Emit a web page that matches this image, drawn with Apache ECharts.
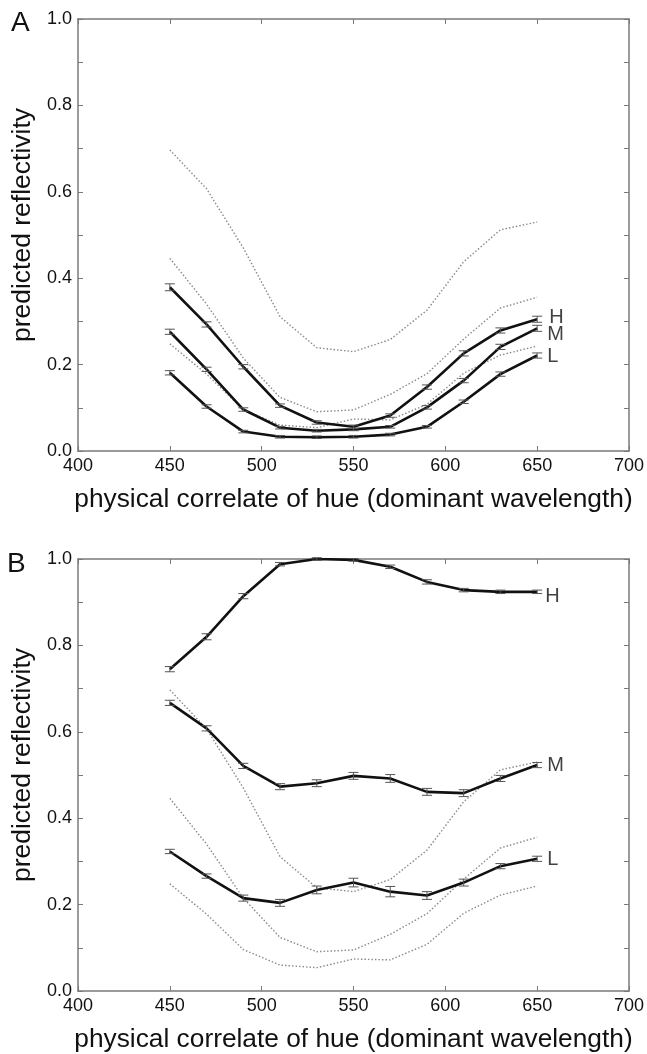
<!DOCTYPE html>
<html>
<head>
<meta charset="utf-8">
<script src="https://cdn.jsdelivr.net/npm/echarts@6/dist/echarts.min.js"></script>
<style>
html,body{margin:0;padding:0;background:#fff;}
#chart{width:647px;height:1054px;}
</style>
</head>
<body>
<div id="chart"></div>
<script>
// ---- data ----
const wavelengths = [450, 470, 490, 510, 530, 550, 570, 590, 610, 630, 650];
const xTicks = [400, 450, 500, 550, 600, 650, 700];

// Panel A solid curves
const aHigh = [0.379, 0.293, 0.195, 0.105, 0.066, 0.056, 0.082, 0.148, 0.226, 0.279, 0.305];
const aMid  = [0.276, 0.189, 0.096, 0.054, 0.047, 0.050, 0.056, 0.101, 0.163, 0.241, 0.284];
const aLow  = [0.181, 0.103, 0.045, 0.033, 0.032, 0.033, 0.038, 0.056, 0.114, 0.178, 0.221];
const aHighErr = [0.008, 0.006, 0.005, 0.004, 0.004, 0.004, 0.004, 0.005, 0.006, 0.006, 0.007];
const aMidErr  = [0.006, 0.005, 0.004, 0.003, 0.003, 0.003, 0.003, 0.004, 0.005, 0.006, 0.007];
const aLowErr  = [0.005, 0.004, 0.003, 0.003, 0.003, 0.003, 0.003, 0.003, 0.004, 0.005, 0.006];

// Panel B solid curves
const bHigh = [0.745, 0.820, 0.914, 0.988, 1.000, 0.998, 0.982, 0.947, 0.928, 0.924, 0.924];
const bMid  = [0.667, 0.608, 0.521, 0.473, 0.481, 0.498, 0.492, 0.461, 0.458, 0.492, 0.523];
const bLow  = [0.323, 0.266, 0.215, 0.204, 0.234, 0.251, 0.230, 0.221, 0.251, 0.289, 0.306];
const bHighErr = [0.006, 0.007, 0.006, 0.004, 0.003, 0.003, 0.004, 0.005, 0.004, 0.004, 0.004];
const bMidErr  = [0.006, 0.006, 0.006, 0.007, 0.008, 0.008, 0.009, 0.008, 0.008, 0.007, 0.006];
const bLowErr  = [0.005, 0.005, 0.007, 0.008, 0.009, 0.010, 0.012, 0.009, 0.008, 0.006, 0.006];

// Dotted reference curves (same in both panels)
const dotHigh = [0.697, 0.607, 0.470, 0.311, 0.239, 0.230, 0.258, 0.326, 0.438, 0.512, 0.530];
const dotMid  = [0.446, 0.340, 0.215, 0.124, 0.091, 0.095, 0.131, 0.179, 0.259, 0.331, 0.356];
const dotLow  = [0.248, 0.178, 0.096, 0.060, 0.054, 0.074, 0.072, 0.108, 0.180, 0.222, 0.243];

const yMin = 0, yMax = 1, yStep = 0.1;
const labelsA = ['H', 'M', 'L'];
const labelsB = ['H', 'M', 'L'];

// ---- chart ----
const chart = echarts.init(document.getElementById('chart'), null, {renderer: 'canvas'});
const FONT = 'Liberation Sans, Arial, Helvetica, sans-serif';
const AX = '#7a7a7a';
const TXT = '#111';

const grids = [
  {left: 78, right: 18, top: 19, height: 432},
  {left: 78, right: 18, top: 559, height: 432}
];

function pair(vals) { return wavelengths.map((w, i) => [w, vals[i]]); }
function errData(vals, errs) { return wavelengths.map((w, i) => [w, vals[i], errs[i]]); }

function xAxes(gi) {
  return [
    {
      type: 'value', gridIndex: gi, min: 400, max: 700, interval: 50, position: 'bottom',
      name: 'physical correlate of hue (dominant wavelength)', nameLocation: 'middle', nameGap: 36,
      nameTextStyle: {fontFamily: FONT, fontSize: 26.3, color: TXT},
      axisLine: {show: true, lineStyle: {color: AX, width: 1.5}},
      axisTick: {show: true, inside: true, length: 5, lineStyle: {color: AX, width: 1}},
      axisLabel: {fontFamily: FONT, fontSize: 18, color: TXT, margin: 6},
      splitLine: {show: false}
    },
    {
      type: 'value', gridIndex: gi, min: 400, max: 700, interval: 50, position: 'top',
      axisLine: {show: true, onZero: false, lineStyle: {color: AX, width: 1.5}},
      axisTick: {show: true, inside: true, length: 5, lineStyle: {color: AX, width: 1}},
      axisLabel: {show: false}, splitLine: {show: false}
    }
  ];
}
function yAxes(gi) {
  return [
    {
      type: 'value', gridIndex: gi, min: yMin, max: yMax, interval: yStep, position: 'left',
      name: 'predicted reflectivity', nameLocation: 'middle', nameGap: 39,
      nameTextStyle: {fontFamily: FONT, fontSize: 26.5, color: TXT, padding: [0, 0, 0, 20]},
      axisLine: {show: true, onZero: false, lineStyle: {color: AX, width: 1.5}},
      axisTick: {show: true, inside: true, length: 5, lineStyle: {color: AX, width: 1}},
      axisLabel: {fontFamily: FONT, fontSize: 18, color: TXT, margin: 6,
        formatter: v => (Math.round(v * 10) % 2 === 0 ? v.toFixed(1) : '')},
      splitLine: {show: false}
    },
    {
      type: 'value', gridIndex: gi, min: yMin, max: yMax, interval: yStep, position: 'right',
      axisLine: {show: true, onZero: false, lineStyle: {color: AX, width: 1.5}},
      axisTick: {show: true, inside: true, length: 5, lineStyle: {color: AX, width: 1}},
      axisLabel: {show: false}, splitLine: {show: false}
    }
  ];
}

function dotted(vals, xi, yi) {
  return {type: 'line', xAxisIndex: xi, yAxisIndex: yi, data: pair(vals), symbol: 'none',
    lineStyle: {color: '#8a8a8a', width: 1.4, type: [1.5, 2]}, silent: true, z: 2};
}
function solid(vals, xi, yi) {
  return {type: 'line', xAxisIndex: xi, yAxisIndex: yi, data: pair(vals), symbol: 'none',
    lineStyle: {color: '#111', width: 2.6}, silent: true, z: 3};
}
function errBars(vals, errs, xi, yi) {
  return {
    type: 'custom', xAxisIndex: xi, yAxisIndex: yi, data: errData(vals, errs), z: 4, silent: true,
    clip: false,
    renderItem: function (params, api) {
      const x = api.value(0), y = api.value(1), e = api.value(2);
      const t = api.coord([x, y + e]);
      const b = api.coord([x, y - e]);
      const hw = 5;
      const st = {stroke: '#555', lineWidth: 1};
      return {type: 'group', children: [
        {type: 'line', shape: {x1: t[0], y1: t[1], x2: b[0], y2: b[1]}, style: st},
        {type: 'line', shape: {x1: t[0] - hw, y1: t[1], x2: t[0] + hw, y2: t[1]}, style: st},
        {type: 'line', shape: {x1: b[0] - hw, y1: b[1], x2: b[0] + hw, y2: b[1]}, style: st}
      ]};
    }
  };
}
function endLabels(names, curves, offsets, xi, yi) {
  return {
    type: 'scatter', xAxisIndex: xi, yAxisIndex: yi, symbolSize: 0, silent: true, z: 5,
    data: curves.map((c, i) => ({
      value: [wavelengths[wavelengths.length - 1], c[c.length - 1]],
      label: {show: true, formatter: names[i], position: 'right', distance: 0,
        offset: offsets[i], fontFamily: FONT, fontSize: 20, color: TXT}
    }))
  };
}

const option = {
  backgroundColor: '#ffffff',
  animation: false,
  grid: grids,
  xAxis: [...xAxes(0), ...xAxes(1)],
  yAxis: [...yAxes(0), ...yAxes(1)],
  graphic: [
    {type: 'text', left: 11, top: 9, style: {text: 'A', font: '28px ' + FONT, fill: TXT}},
    {type: 'text', left: 7, top: 550, style: {text: 'B', font: '28px ' + FONT, fill: TXT}}
  ],
  series: [
    dotted(dotHigh, 0, 0), dotted(dotMid, 0, 0), dotted(dotLow, 0, 0),
    solid(aHigh, 0, 0), solid(aMid, 0, 0), solid(aLow, 0, 0),
    errBars(aHigh, aHighErr, 0, 0), errBars(aMid, aMidErr, 0, 0), errBars(aLow, aLowErr, 0, 0),
    endLabels(labelsA, [aHigh, aMid, aLow], [[12, -2], [10, 6], [10, 1]], 0, 0),

    dotted(dotHigh, 2, 2), dotted(dotMid, 2, 2), dotted(dotLow, 2, 2),
    solid(bHigh, 2, 2), solid(bMid, 2, 2), solid(bLow, 2, 2),
    errBars(bHigh, bHighErr, 2, 2), errBars(bMid, bMidErr, 2, 2), errBars(bLow, bLowErr, 2, 2),
    endLabels(labelsB, [bHigh, bMid, bLow], [[8, 5], [10, 0], [10, 1]], 2, 2)
  ]
};
chart.setOption(option);
</script>
</body>
</html>
